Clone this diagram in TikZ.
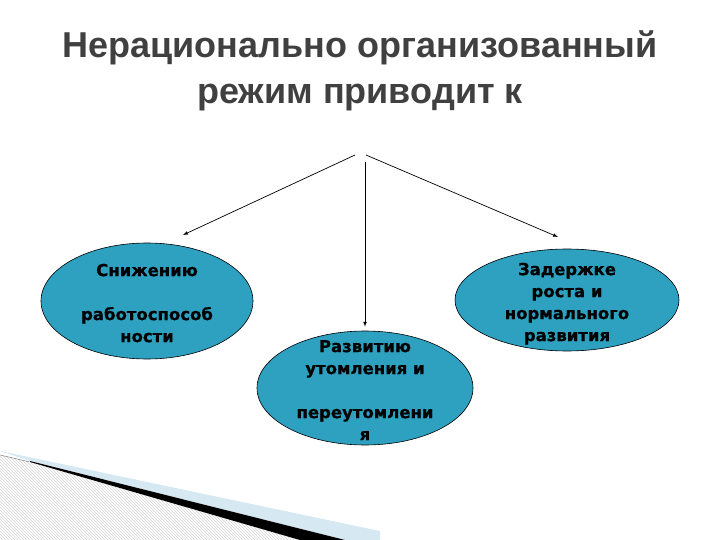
\documentclass[tikz,border=0pt]{standalone}
\usepackage{fontspec}
\setmainfont{DejaVu Sans}
\newfontfamily\titlefont{Liberation Sans}
\usepackage{tikz}
\usetikzlibrary{shapes.geometric,arrows,positioning,patterns}
\usepackage{xcolor}
\definecolor{ovalcolor}{RGB}{46, 160, 192}
\definecolor{titlegray}{RGB}{64, 64, 64}
\definecolor{bandblue}{RGB}{214, 233, 242}
\newcommand{\ovaltext}[1]{\smash{\raisebox{-8pt}{\begin{tabular}{@{}c@{}}#1\end{tabular}}}}

\begin{document}
\begin{tikzpicture}[
    x=1pt, y=-1pt,
    oval/.style={ellipse, draw, fill=ovalcolor, inner sep=0pt, line width=0.6pt,
                 font=\fontsize{16.5}{22}\selectfont\bfseries\addfontfeature{FakeBold=0.6}},
    arrow/.style={-latex, line width=0.7pt}
]
    \useasboundingbox (0,0) rectangle (720,540);

    % Title
    \node[font=\titlefont\fontsize{36}{46}\selectfont\bfseries, text=titlegray, align=center] (title) at (360,71)
        {Нерационально организованный\\режим приводит к};

    % Three outcomes
    \node[oval, minimum width=212pt, minimum height=116pt] (low) at (147,301)
        {\ovaltext{Снижению\\ \\ работоспособ\\ности}};
    \node[oval, minimum width=216pt, minimum height=114pt] (mid) at (365,388)
        {\ovaltext{Развитию\\утомления и\\ \\ переутомлени\\я}};
    \node[oval, minimum width=224pt, minimum height=102pt] (high) at (567,300)
        {\ovaltext{Задержке\\роста и\\нормального\\развития}};

    % Arrows
    \coordinate (lstart) at (355,155);
    \coordinate (mstart) at (365,162);
    \coordinate (rstart) at (366,155);
    \coordinate (lend) at (183,235);
    \coordinate (rend) at (558,237);
    \draw[arrow] (lstart) -- (lend);
    \draw[arrow, shorten >=4pt] (mstart) -- (mid);
    \draw[arrow] (rstart) -- (rend);

    % Corner decoration
    \fill[pattern=north west lines, pattern color=gray!35] (0,455) -- (30,462) -- (300,540) -- (0,540) -- cycle;
    \draw[gray, line width=0.5pt] (0,455) -- (30,462);
    \fill[bandblue] (0,451) -- (380,531) -- (380,540) -- (345,540) -- (30,461) -- cycle;
    \fill[black] (30,461) -- (345,540) -- (300,540) -- (30,462) -- cycle;
\end{tikzpicture}
\end{document}
